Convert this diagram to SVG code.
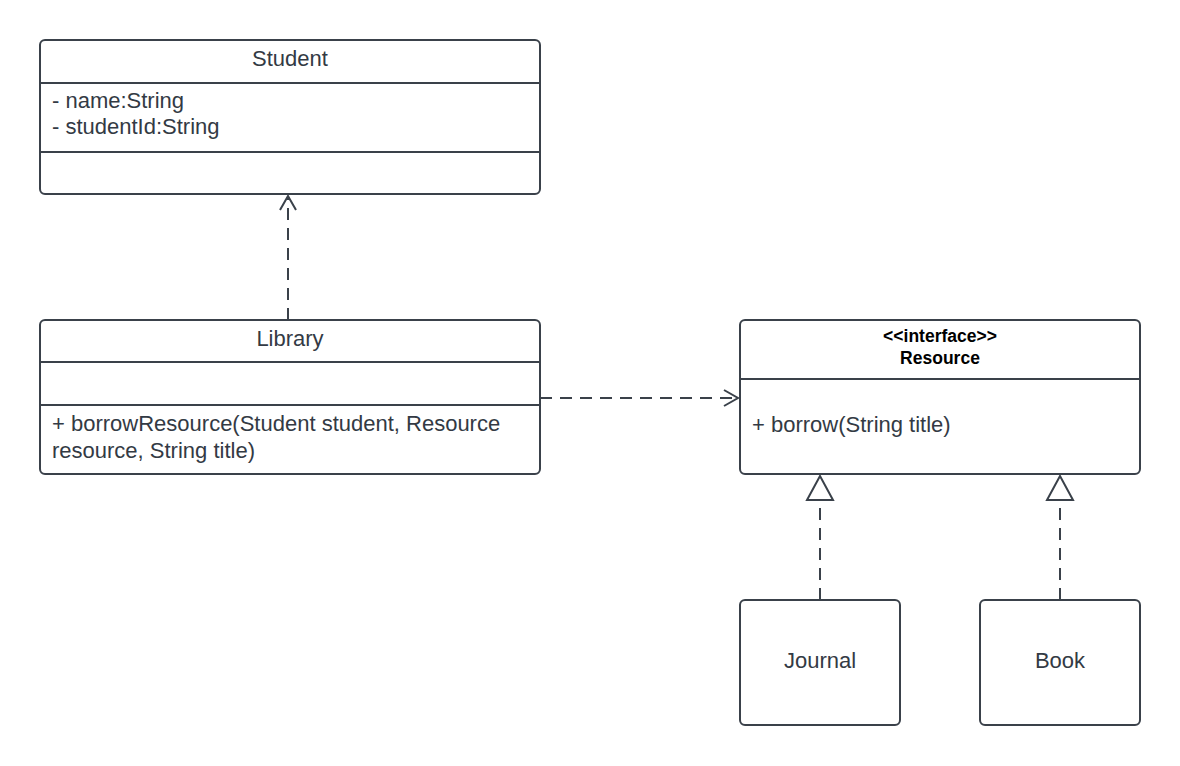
<svg xmlns="http://www.w3.org/2000/svg" width="1180" height="766" viewBox="0 0 1180 766">
<defs>
<style>
.box{fill:#fff;stroke:#3a414a;stroke-width:2}
.div{stroke:#3a414a;stroke-width:2}
.t{font-family:"Liberation Sans",Arial,sans-serif;font-size:22px;fill:#333a44}
.b{font-family:"Liberation Sans",Arial,sans-serif;font-size:17.5px;font-weight:bold;fill:#000}
.c{text-anchor:middle}
.dash{fill:none;stroke:#3a414a;stroke-width:2;stroke-dasharray:12 8}
</style>
<marker id="open" viewBox="0 0 20 20" refX="18" refY="10" markerWidth="20" markerHeight="20" markerUnits="userSpaceOnUse" orient="auto">
<path d="M4,2 L18,10 L4,18" fill="none" stroke="#3a414a" stroke-width="2"/>
</marker>
<marker id="tri" viewBox="0 0 30 30" refX="28" refY="15" markerWidth="30" markerHeight="30" markerUnits="userSpaceOnUse" orient="auto">
<path d="M4,2 L28,15 L4,28 Z" fill="#fff" stroke="#3a414a" stroke-width="2"/>
</marker>
</defs>
<rect width="1180" height="766" fill="#fff"/>
<g id="connectors">
<path class="dash" d="M288,320 L288,196" marker-end="url(#open)"/>
<path class="dash" d="M540,398 L738,398" marker-end="url(#open)"/>
<path class="dash" d="M820,600 L820,476" marker-end="url(#tri)"/>
<path class="dash" d="M1060,600 L1060,476" marker-end="url(#tri)"/>
</g>
<g id="student">
<rect class="box" x="40" y="40" width="500" height="154" rx="5"/>
<line class="div" x1="40" y1="83" x2="540" y2="83"/>
<line class="div" x1="40" y1="152" x2="540" y2="152"/>
<text class="t c" x="290" y="66">Student</text>
<text class="t" x="52" y="108">- name:String</text>
<text class="t" x="52" y="134">- studentId:String</text>
</g>
<g id="library">
<rect class="box" x="40" y="320" width="500" height="154" rx="5"/>
<line class="div" x1="40" y1="362" x2="540" y2="362"/>
<line class="div" x1="40" y1="405" x2="540" y2="405"/>
<text class="t c" x="290" y="346">Library</text>
<text class="t" x="52" y="431">+ borrowResource(Student student, Resource</text>
<text class="t" x="52" y="458">resource, String title)</text>
</g>
<g id="resource">
<rect class="box" x="740" y="320" width="400" height="154" rx="5"/>
<line class="div" x1="740" y1="379" x2="1140" y2="379"/>
<text class="b c" x="940" y="342">&lt;&lt;interface&gt;&gt;</text>
<text class="b c" x="940" y="364">Resource</text>
<text class="t" x="752" y="432">+ borrow(String title)</text>
</g>
<g id="journal">
<rect class="box" x="740" y="600" width="160" height="125" rx="5"/>
<text class="t c" x="820" y="668">Journal</text>
</g>
<g id="book">
<rect class="box" x="980" y="600" width="160" height="125" rx="5"/>
<text class="t c" x="1060" y="668">Book</text>
</g>
</svg>
